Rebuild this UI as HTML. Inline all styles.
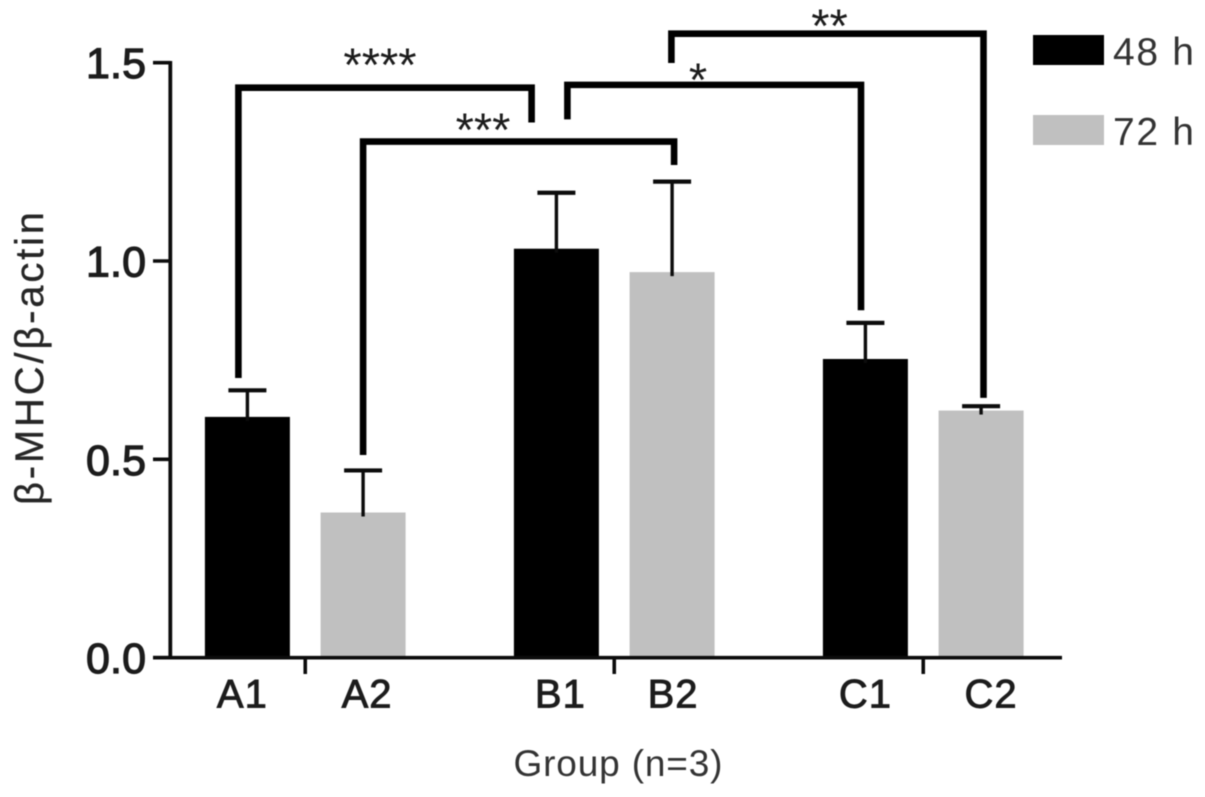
<!DOCTYPE html>
<html lang="en">
<head>
<meta charset="utf-8">
<title>β-MHC/β-actin bar chart</title>
<style>
html,body{margin:0;padding:0;background:#fff;width:1205px;height:797px;overflow:hidden}
svg{display:block;filter:blur(0.55px)}
text{font-family:"Liberation Sans","DejaVu Sans",sans-serif}
</style>
</head>
<body>
<svg id="chart" xmlns="http://www.w3.org/2000/svg" width="1205" height="797" viewBox="0 0 1205 797"></svg>
<script>
const categories = ['A1', 'A2', 'B1', 'B2', 'C1', 'C2'];
const meanValues = [0.607, 0.366, 1.031, 0.972, 0.753, 0.623];
const errorValues = [0.067, 0.106, 0.141, 0.228, 0.091, 0.011];
const seriesNames = ['48 h', '72 h'];
const yTickValues = [0, 0.5, 1, 1.5];
const yTickLabels = ['0.0', '0.5', '1.0', '1.5'];
const bracketFrom = [0, 1, 2, 3];
const bracketTo = [2, 3, 4, 5];
const bracketLevels = [1.437, 1.301, 1.444, 1.573];
const bracketFromEnds = [0.705, 0.511, 1.357, 1.499];
const bracketToEnds = [1.349, 1.242, 0.876, 0.655];
const bracketStars = ['****', '***', '*', '**'];
const starLevels = [1.522, 1.358, 1.484, 1.620];

const svg = document.getElementById('chart');
const NS = 'http://www.w3.org/2000/svg';
const INK = '#0c0c0c';
const TEXT = '#1c1c1c';
const seriesFill = ['#000', '#c0c0c0'];
const y0 = 657.7, unitPx = 396.7, axisX = 170.3, barW = 85;
const labelNudge = [-5, 4, 4, 1, 0, 10];
const fromNudge = [-9, 0, 11, -0.7];
const toNudge = [-24.8, 2, -4.4, 2.4];
const starX = [380, 483, 698, 829.5];

function yScale(v) { return y0 - v * unitPx; }
function groupOf(i) { return Math.floor(i / 2); }
function seriesOf(i) { return i % 2; }
function xCenter(i) { return 247.4 + groupOf(i) * 309 + seriesOf(i) * 115.7; }

function make(tag, attrs, text) {
  const el = document.createElementNS(NS, tag);
  for (const k in attrs) el.setAttribute(k, attrs[k]);
  if (text !== undefined) el.textContent = text;
  svg.appendChild(el);
  return el;
}

// bars
categories.forEach(function (c, i) {
  const top = yScale(meanValues[i]);
  const bar = make('rect', { x: xCenter(i) - barW / 2, y: top, width: barW, height: y0 - top, fill: seriesFill[seriesOf(i)] });
  
  
  const capY = yScale(meanValues[i] + errorValues[i]);
  const stem = make('line', { x1: xCenter(i), x2: xCenter(i), y1: capY, y2: top + 4, stroke: INK, 'stroke-width': 3.4 });
  
  
  const cap = make('line', { x1: xCenter(i) - 19, x2: xCenter(i) + 19, y1: capY, y2: capY, stroke: INK, 'stroke-width': 4.2 });
  
  
  const lab = make('text', { x: xCenter(i) + labelNudge[i], y: 707.5, 'text-anchor': 'middle', 'font-size': 40, fill: TEXT, stroke: TEXT, 'stroke-width': 0.9, 'letter-spacing': 1 }, c);
  
  
});

// y axis
const yAxis = make('line', { x1: axisX, x2: axisX, y1: yScale(1.5) - 1.7, y2: y0 + 1.7, stroke: INK, 'stroke-width': 3.8 });


yTickValues.forEach(function (v, i) {
  const t = make('line', { x1: 153, x2: axisX, y1: yScale(v), y2: yScale(v), stroke: INK, 'stroke-width': 3.6 });
  
  
  const lab = make('text', { x: 146, y: yScale(v) + 15.5, 'text-anchor': 'end', 'font-size': 43, fill: TEXT, stroke: TEXT, 'stroke-width': 1.2, textLength: 60, lengthAdjust: 'spacing' }, yTickLabels[i]);
  
  
});

// x axis
const xAxis = make('line', { x1: 153, x2: 1062, y1: y0, y2: y0, stroke: INK, 'stroke-width': 3.6 });


[0, 2, 4].forEach(function (i) {
  const mx = (xCenter(i) + xCenter(i + 1)) / 2;
  const t = make('line', { x1: mx, x2: mx, y1: y0, y2: 674, stroke: INK, 'stroke-width': 3.6 });
  
  
});

// significance brackets
bracketLevels.forEach(function (lv, i) {
  const xa = xCenter(bracketFrom[i]) + fromNudge[i];
  const xb = xCenter(bracketTo[i]) + toNudge[i];
  const d = 'M' + xa + ' ' + yScale(bracketFromEnds[i]) + ' V' + yScale(lv) + ' H' + xb + ' V' + yScale(bracketToEnds[i]);
  const p = make('path', { d: d, fill: 'none', stroke: '#000', 'stroke-width': 6.6, 'stroke-linejoin': 'miter' });
  
  
  const s = make('text', { x: starX[i], y: yScale(starLevels[i]) + 27, 'text-anchor': 'middle', 'font-size': 47, fill: TEXT }, bracketStars[i]);
  
  
});

// axis titles
const yTitle = make('text', { x: 0, y: 0, transform: 'translate(43,358.5) rotate(-90)', 'text-anchor': 'middle', 'font-size': 40, fill: '#262626', stroke: '#262626', 'stroke-width': 0.3, textLength: 293, lengthAdjust: 'spacing' }, 'β-MHC/β-actin');


const xTitle = make('text', { x: 618, y: 776, 'text-anchor': 'middle', 'font-size': 37, fill: '#333', textLength: 209, lengthAdjust: 'spacing' }, 'Group (n=3)');



// legend
seriesNames.forEach(function (n, i) {
  const top = 35 + i * 80;
  const sw = make('rect', { x: 1033, y: top, width: 71, height: 30, fill: seriesFill[i] });
  
  
  const lab = make('text', { x: 1113, y: top + 30, 'font-size': 39, fill: '#333', textLength: 81, lengthAdjust: 'spacing' }, n);
  
  
});
</script>
</body>
</html>
